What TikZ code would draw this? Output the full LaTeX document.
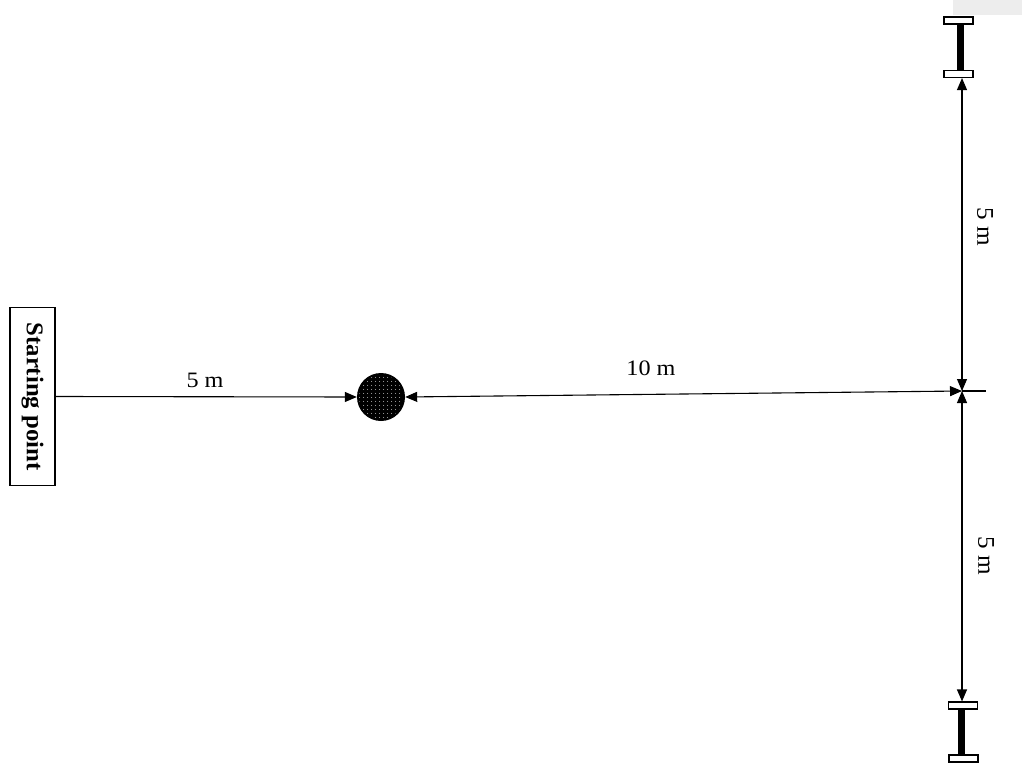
\documentclass[tikz,border=0pt]{standalone}
\usepackage{fontspec}
\setmainfont{Liberation Serif}
\usetikzlibrary{arrows.meta,patterns.meta}
\newcommand\hlab[1]{\fontsize{22}{26}\selectfont\scalebox{1.1}[1]{#1}}
\newcommand\vlab[1]{\fontsize{24}{28}\selectfont\scalebox{1.05}[1]{#1}}
\begin{document}
\begin{tikzpicture}[x=1pt,y=-1pt,
  line/.style={line width=1.1pt, draw=black},
  dim/.style={line, {Triangle[length=12pt,width=10pt]}-{Triangle[length=12pt,width=10pt]}},
  arr/.style={line, -{Triangle[length=12pt,width=10pt]}},
  flange/.style={draw=black, fill=white, line width=1.1pt, inner sep=0pt, minimum width=29pt, minimum height=7pt},
  web/.style={fill=black, inner sep=0pt, minimum width=7pt},
  lab/.style={inner sep=1pt}]
\useasboundingbox (0,0) rectangle (1022,773);
\fill[black!7] (953,0) rectangle (1022,15);

% starting point box
\node[draw, line width=1.1pt, minimum width=178pt, minimum height=45pt, inner sep=0pt, rotate=-90]
  (start) at (32.5,396.5) {\fontsize{24}{28}\selectfont\bfseries\scalebox{1.03}[1]{Starting point}};

% ball
\node[circle, fill=black, minimum size=48pt, inner sep=0pt] (ball) at (381,397) {};
\fill[pattern={Dots[distance=4pt,radius=0.55pt]}, pattern color=white] (ball.center) circle (22pt);

% top I-beam
\node[flange] (tt) at (958.5,20.5) {};
\node[flange] (tb) at (958.5,74) {};
\node[web, minimum height=47pt] (tw) at (960,47.5) {};
% bottom I-beam
\node[flange] (bt) at (963,705.5) {};
\node[flange] (bb) at (963.5,758.5) {};
\node[web, minimum height=46pt] (bw) at (961.5,732) {};

% junction
\coordinate (J) at (962,391);
\coordinate (R) at (986,391);

% connectors
\draw[arr] (start.north) -- (ball.west);
\draw[dim] (ball.east) -- (J);
\draw[line] (J) -- (R);
\draw[dim] (tb.south -| J) -- (J);
\draw[dim] (J) -- (bt.north -| J);

% labels
\node[lab] (l1) at (205,380) {\hlab{5 m}};
\node[lab] (l2) at (651,368) {\hlab{10 m}};
\node[lab, rotate=-90] (l3) at (985,227) {\vlab{5 m}};
\node[lab, rotate=-90] (l4) at (986,556) {\vlab{5 m}};
\end{tikzpicture}
\end{document}
